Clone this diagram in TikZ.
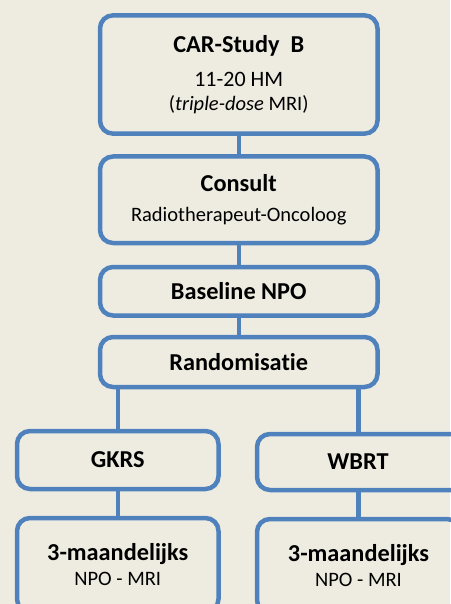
\documentclass[tikz,border=0pt]{standalone}
\usepackage{fontspec}
\setmainfont{Carlito}[Ligatures={NoCommon}]
\usepackage{tikz}
\usetikzlibrary{backgrounds}
\definecolor{flowblue}{HTML}{4F81BD}
\definecolor{paper}{HTML}{EEECE1}
\tikzset{flow box/.style={draw=flowblue, line width=4.5pt, rounded corners=13pt, rectangle, align=center, inner sep=0pt, font=\fontsize{20.5}{24}\selectfont}}
\tikzset{flow line/.style={draw=flowblue, line width=4.5pt}}
\newcommand{\boxtitle}[1]{{\bfseries\fontsize{24.3}{24}\selectfont #1}}

\begin{document}
\begin{tikzpicture}[x=1pt, y=-1pt]
\fill[paper] (0,0) rectangle (450,604);
\useasboundingbox (0,0) rectangle (450,604);
\node[flow box, minimum width=277.5pt, minimum height=118.3pt] (study) at (238.75,74.5) {\boxtitle{CAR-Study\ \ B}\\[10pt] {\fontsize{22}{24}\selectfont 11-20 HM}\\ (\textit{triple-dose} MRI)};
\node[flow box, minimum width=277.5pt, minimum height=86.5pt] (consult) at (238.75,199.75) {\boxtitle{Consult}\\[6pt] Radiotherapeut-Oncoloog};
\node[flow box, minimum width=277.5pt, minimum height=48.5pt] (baseline) at (238.75,291.25) {\boxtitle{Baseline NPO}};
\node[flow box, minimum width=277.5pt, minimum height=50pt] (random) at (238.75,362) {\boxtitle{Randomisatie}};
\node[flow box, minimum width=201.5pt, minimum height=58pt] (gkrs) at (117.75,460) {\boxtitle{GKRS}};
\node[flow box, minimum width=209pt, minimum height=56pt] (wbrt) at (361.5,462) {\hspace*{-7pt}\boxtitle{WBRT}};
\node[flow box, minimum width=201.5pt, minimum height=94pt] (gkrsfollow) at (117.75,565) {\boxtitle{3-maandelijks}\\[1pt] NPO - MRI};
\node[flow box, minimum width=203pt, minimum height=94pt] (wbrtfollow) at (358.5,566) {\boxtitle{3-maandelijks}\\[1pt] NPO - MRI};
\draw[flow line] (study) -- (consult);
\draw[flow line] (consult) -- (baseline);
\draw[flow line] (baseline) -- (random);
\draw[flow line] (random.south -| gkrs) -- (gkrs);
\draw[flow line] (random.south -| wbrtfollow) -- (wbrt.north -| wbrtfollow);
\draw[flow line] (gkrs) -- (gkrsfollow);
\draw[flow line] (wbrt.south -| wbrtfollow) -- (wbrtfollow);
\end{tikzpicture}
\end{document}
